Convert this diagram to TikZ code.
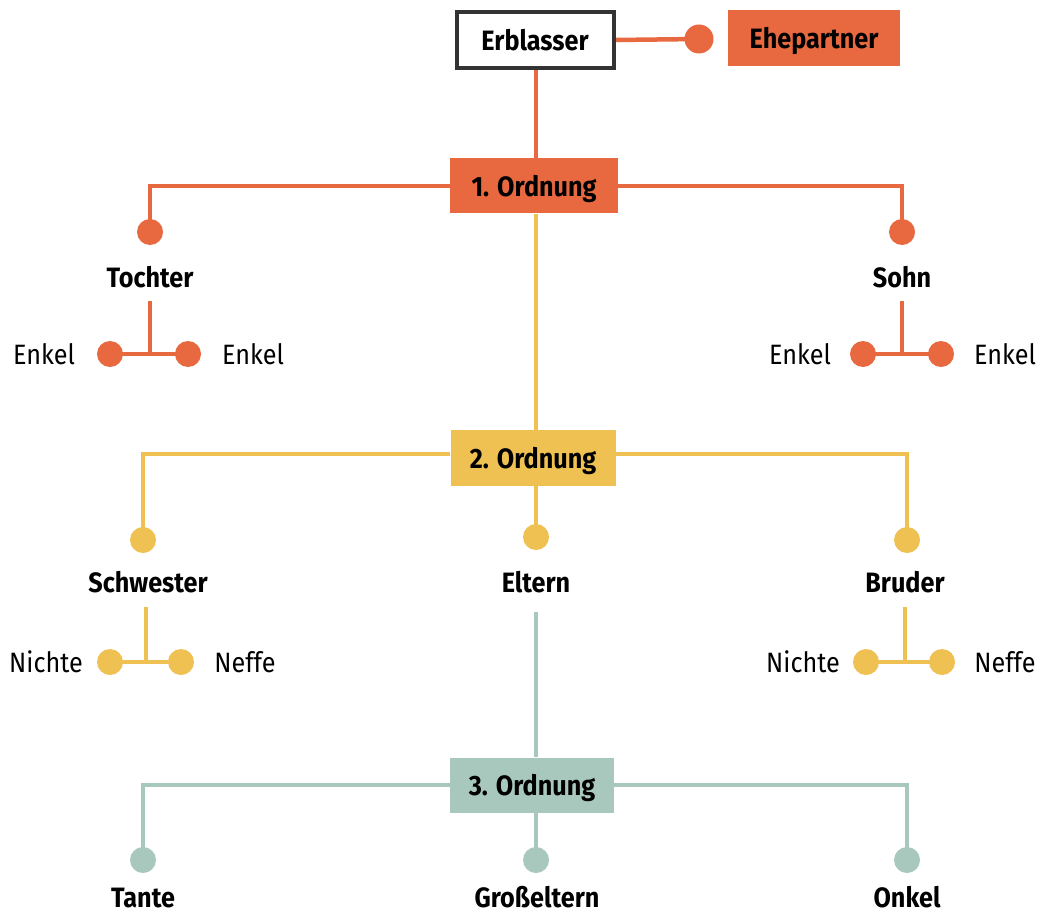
\documentclass[tikz,border=0pt]{standalone}
\usepackage{fontspec}
\setmainfont[FakeStretch=0.9]{Fira Sans}
\usetikzlibrary{backgrounds}
\definecolor{ora}{HTML}{E8693F}
\definecolor{yel}{HTML}{EFC052}
\definecolor{tea}{HTML}{A8C8BE}
\definecolor{dark}{HTML}{333333}
\begin{document}
\begin{tikzpicture}[x=1pt,y=-1pt,
  txt/.style={font=\fontsize{28}{30}\selectfont, inner sep=0pt, text height=21pt, text depth=0pt},
  lbl/.style={txt, font=\fontsize{28}{30}\selectfont\bfseries},
  box/.style={lbl, minimum width=166pt, minimum height=56pt},
  dot/.style={circle, inner sep=0pt, minimum size=26pt},
  conn/.style={line width=4.5pt}]
\useasboundingbox (0,0) rectangle (1043,917);
% boxes
\node[box, draw=dark, line width=4pt, fill=white, minimum width=157pt, minimum height=56pt] (erb) at (535,40) {Erblasser};
\node[box, fill=ora, minimum width=172pt] (ehe) at (814,38) {Ehepartner};
\node[dot, fill=ora, minimum size=29pt] (edot) at (699,39) {};
\node[box, fill=ora, minimum width=168pt, minimum height=55pt] (o1) at (534,186) {1. Ordnung};
\node[box, fill=yel, minimum width=165pt] (o2) at (533,458) {2. Ordnung};
\node[box, fill=tea, minimum width=164pt, minimum height=55pt] (o3) at (532,785) {3. Ordnung};
% first order
\node[dot, fill=ora] (tdot) at (150,232) {};
\node[dot, fill=ora] (sdot) at (902,232) {};
\node[lbl] (toch) at (150,277) {Tochter};
\node[lbl] (sohn) at (902,277) {Sohn};
\coordinate (tj) at (150,301);
\coordinate (sj) at (902,301);
\node[dot, fill=ora] (e1) at (110,354) {};
\node[dot, fill=ora] (e2) at (188,354) {};
\node[dot, fill=ora] (e3) at (863,354) {};
\node[dot, fill=ora] (e4) at (941,354) {};
\node[txt] (e1t) at (44,354) {Enkel};
\node[txt] (e2t) at (253,354) {Enkel};
\node[txt] (e3t) at (800,354) {Enkel};
\node[txt] (e4t) at (1005,354) {Enkel};
% second order
\node[dot, fill=yel] (schdot) at (143,540) {};
\node[dot, fill=yel] (eldot) at (536,537) {};
\node[dot, fill=yel] (brdot) at (907,540) {};
\node[lbl] (schw) at (148,582) {Schwester};
\node[lbl] (elt) at (536,582) {Eltern};
\node[lbl] (bru) at (905,582) {Bruder};
\coordinate (schj) at (146,607);
\coordinate (brj) at (905,607);
\coordinate (eltj) at (536,612);
\node[dot, fill=yel] (n1) at (110,662) {};
\node[dot, fill=yel] (n2) at (181,662) {};
\node[dot, fill=yel] (n3) at (866,662) {};
\node[dot, fill=yel] (n4) at (942,662) {};
\node[txt] (n1t) at (46,662) {Nichte};
\node[txt] (n2t) at (245,662) {Neffe};
\node[txt] (n3t) at (803,662) {Nichte};
\node[txt] (n4t) at (1005,662) {Neffe};
% third order
\node[dot, fill=tea] (tadot) at (143,860) {};
\node[dot, fill=tea] (gdot) at (536,860) {};
\node[dot, fill=tea] (odot) at (907,860) {};
\node[lbl] (tante) at (143,897) {Tante};
\node[lbl] (gross) at (537,897) {Großeltern};
\node[lbl] (onkel) at (907,897) {Onkel};
% connectors
\begin{scope}[on background layer]
\draw[conn, ora] (erb.east) -- (edot.center);
\draw[conn, ora] (erb.south -| eldot) -- (o1.north -| eldot);
\draw[conn, ora] (o1.west) -| (tdot.center);
\draw[conn, ora] (o1.east) -| (sdot.center);
\draw[conn, ora] (tj) -- (tj |- e1.center);
\draw[conn, ora] (e1.center) -- (e2.center);
\draw[conn, ora] (sj) -- (sj |- e3.center);
\draw[conn, ora] (e3.center) -- (e4.center);
\draw[conn, yel] (o1.south -| eldot) -- (o2.north -| eldot);
\draw[conn, yel] ([yshift=4pt]o2.west) -| (schdot.center);
\draw[conn, yel] ([yshift=4pt]o2.east) -| (brdot.center);
\draw[conn, yel] (o2.south -| eldot) -- (eldot.center);
\draw[conn, yel] (schj) -- (schj |- n1.center);
\draw[conn, yel] (n1.center) -- (n2.center);
\draw[conn, yel] (brj) -- (brj |- n3.center);
\draw[conn, yel] (n3.center) -- (n4.center);
\draw[conn, tea] (eltj) -- (o3.north -| eltj);
\draw[conn, tea] (o3.west) -| (tadot.center);
\draw[conn, tea] (o3.east) -| (odot.center);
\draw[conn, tea] (o3.south -| gdot) -- (gdot.center);
\end{scope}
\end{tikzpicture}
\end{document}
